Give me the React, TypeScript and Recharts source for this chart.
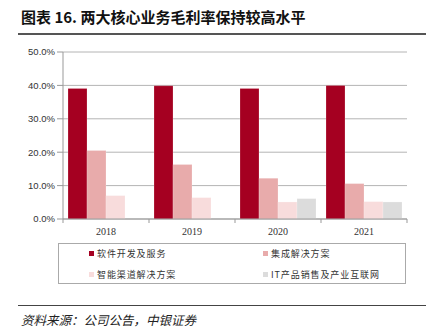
import { BarChart, Bar, XAxis, YAxis, CartesianGrid } from "recharts";

const years = ["2018", "2019", "2020", "2021"];
const softwareService = [39.1, 39.9, 39.1, 40.0];
const integrationSolution = [20.5, 16.3, 12.2, 10.6];
const smartChannel = [7.0, 6.4, 5.1, 5.2];
const itProductIot = [null, null, 6.1, 5.1];
const yTicks = [0, 10, 20, 30, 40, 50];

const SERIES = [
  { key: "software", name: "软件开发及服务", color: "#A50021" },
  { key: "integration", name: "集成解决方案", color: "#E8ABAB" },
  { key: "channel", name: "智能渠道解决方案", color: "#F8DCDC" },
  { key: "it", name: "IT产品销售及产业互联网", color: "#DCDCDC" },
];

const chartData = years.map((year, i) => ({
  year,
  software: softwareService[i],
  integration: integrationSolution[i],
  channel: smartChannel[i],
  it: itProductIot[i],
}));

const CHART_W = 430;
const MARGIN = { top: 52, right: 23, left: 0, bottom: 0 };
const Y_W = 63;
const BAND = (CHART_W - MARGIN.left - MARGIN.right - Y_W) / years.length;

function YearTick(props: any) {
  const { x, y, payload, index } = props;
  const left = x - BAND / 2;
  const right = x + BAND / 2;
  return (
    <g>
      <line x1={left} y1={y - 8} x2={left} y2={y - 4} stroke="#999" />
      {index === years.length - 1 && (
        <line x1={right} y1={y - 8} x2={right} y2={y - 4} stroke="#999" />
      )}
      <text
        x={x}
        y={y + 8}
        textAnchor="middle"
        fontFamily="'Liberation Serif', serif"
        fontSize={10}
        fill="#333"
      >
        {payload.value}
      </text>
    </g>
  );
}

export default function App() {
  return (
    <div
      style={{
        position: "absolute",
        left: 0,
        top: 0,
        width: 430,
        height: 335,
        background: "#fff",
        fontFamily: "'Noto Sans CJK SC', sans-serif",
      }}
    >
      <div
        style={{
          position: "absolute",
          left: 21,
          top: 6,
          fontSize: 15,
          fontWeight: "bold",
          color: "#111",
          whiteSpace: "nowrap",
        }}
      >
        图表 16. 两大核心业务毛利率保持较高水平
      </div>
      <div
        style={{
          position: "absolute",
          left: 18,
          top: 33,
          width: 408,
          height: 1.5,
          background: "#555",
        }}
      />

      <div style={{ position: "absolute", left: 0, top: 0 }}>
        <BarChart
          width={CHART_W}
          height={240}
          data={chartData}
          margin={MARGIN}
          barGap={0}
          barCategoryGap={5}
        >
          <CartesianGrid vertical={false} stroke="#b4b4b4" />
          <XAxis
            dataKey="year"
            height={21}
            tickLine={false}
            axisLine={{ stroke: "#999" }}
            tick={<YearTick />}
            interval={0}
          />
          <YAxis
            width={Y_W}
            domain={[0, 50]}
            ticks={yTicks}
            tickFormatter={(v: number) => `${v.toFixed(1)}%`}
            tickSize={6}
            tickMargin={2}
            axisLine={{ stroke: "#999" }}
            tickLine={{ stroke: "#999" }}
            tick={{ fontSize: 9.5, fill: "#333", fontFamily: "'Liberation Sans', Arial, sans-serif" }}
            interval={0}
          />
          {SERIES.map((s) => (
            <Bar
              key={s.key}
              dataKey={s.key}
              name={s.name}
              fill={s.color}
              stroke="#fff"
              strokeOpacity={0.4}
              strokeWidth={0.5}
              isAnimationActive={false}
            />
          ))}
        </BarChart>
      </div>

      <div
        style={{
          position: "absolute",
          left: 58,
          top: 243,
          width: 348,
          height: 41,
          border: "1px solid #aaa",
          boxSizing: "border-box",
        }}
      />
      {SERIES.map((s, i) => {
        const col = i % 2;
        const row = Math.floor(i / 2);
        return (
          <div
            key={s.key}
            style={{
              position: "absolute",
              left: col === 0 ? 89 : 263,
              top: row === 0 ? 247 : 268,
              display: "flex",
              alignItems: "center",
              whiteSpace: "nowrap",
              fontSize: 9,
              letterSpacing: 0.9,
              color: "#333",
              lineHeight: "13px",
            }}
          >
            <span
              style={{
                display: "inline-block",
                width: 5,
                height: 5,
                background: s.color,
                marginRight: 3,
              }}
            />
            <span>{s.name}</span>
          </div>
        );
      })}

      <div
        style={{
          position: "absolute",
          left: 18,
          top: 305,
          width: 408,
          height: 1,
          background: "#444",
        }}
      />
      <div
        style={{
          position: "absolute",
          left: 21,
          top: 310,
          fontSize: 12.5,
          fontStyle: "italic",
          color: "#222",
          whiteSpace: "nowrap",
        }}
      >
        资料来源：公司公告，中银证券
      </div>
    </div>
  );
}
